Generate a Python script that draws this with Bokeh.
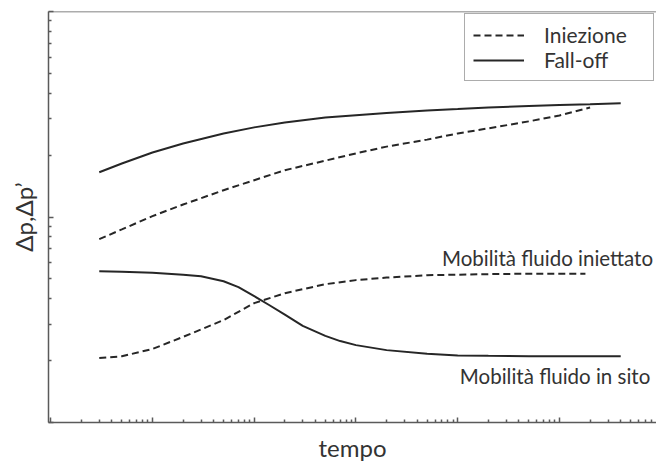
from bokeh.plotting import figure
from bokeh.models import FixedTicker, Span, ColumnDataSource, Legend, LegendItem, CustomJSTickFormatter
from bokeh.core.properties import value
from bokeh.embed import file_html
from bokeh.resources import INLINE

# ---- data ----
t_fall = [0.3, 0.5, 1, 2, 5, 10, 20, 50, 100, 200, 500, 1000, 2000, 5000, 1e4, 2e4, 4e4]
fall_high = [1.65, 1.82, 2.06, 2.28, 2.55, 2.73, 2.88, 3.05, 3.13, 3.21, 3.30, 3.35, 3.41, 3.47, 3.51, 3.54, 3.58]

t_fall_low = [0.3, 0.5, 1, 2, 3, 5, 7, 10, 14, 20, 30, 50, 70, 100, 200, 500, 1000, 2000, 5000, 1e4, 2e4, 4e4]
fall_low = [0.545, 0.542, 0.536, 0.524, 0.515, 0.487, 0.456, 0.412, 0.373, 0.335, 0.295, 0.264, 0.249, 0.238, 0.225,
            0.216, 0.212, 0.211, 0.210, 0.210, 0.210, 0.210]

t_inj_high = [0.3, 0.5, 1, 2, 5, 10, 20, 50, 100, 200, 500, 1000, 2000, 5000, 1e4, 2e4]
inj_high = [0.78, 0.87, 1.01, 1.15, 1.35, 1.51, 1.69, 1.88, 2.04, 2.20, 2.38, 2.55, 2.70, 2.92, 3.12, 3.41]

t_inj_low = [0.3, 0.5, 1, 2, 5, 10, 20, 50, 100, 200, 500, 1000, 2000, 5000, 1e4, 1.8e4]
inj_low = [0.206, 0.210, 0.228, 0.261, 0.315, 0.381, 0.426, 0.471, 0.493, 0.507, 0.521, 0.524, 0.527, 0.530, 0.530, 0.530]

note_texts = ["Mobilità fluido iniettato", "Mobilità fluido in sito"]
note_t = [700, 1050]
note_v = [0.635, 0.169]

series_labels = ["Iniezione", "Fall-off"]
x_label = "tempo"
y_label = "Δp,Δp’"

FONT = "Lato"
TXT = "#333333"
AX = "#5a5a5a"
LINE = "#262626"

p = figure(width=656, height=464, x_axis_type="log", y_axis_type="log",
           x_range=(0.0951, 89900), y_range=(0.1, 10),
           output_backend="svg", toolbar_location=None,
           min_border_top=11, min_border_left=48, min_border_right=0, min_border_bottom=40)
p.outline_line_color = None
p.xgrid.visible = False
p.ygrid.visible = False
p.background_fill_color = "white"
p.border_fill_color = "white"

r_inj1 = p.line(t_inj_high, inj_high, line_color=LINE, line_width=2, line_dash="7 4")
r_inj2 = p.line(t_inj_low, inj_low, line_color=LINE, line_width=2, line_dash="7 4")
r_fall1 = p.line(t_fall, fall_high, line_color=LINE, line_width=2)
r_fall2 = p.line(t_fall_low, fall_low, line_color=LINE, line_width=2)

src = ColumnDataSource(dict(x=note_t, y=note_v, text=note_texts))
p.text(x="x", y="y", text="text", source=src, text_font=value(FONT),
       text_font_size="20.5px", text_color=TXT, text_baseline="middle", text_align="left")

# top frame line
p.add_layout(Span(location=10, dimension="width", line_color=AX, line_width=1.5))

# axes
xt = [10.0 ** k for k in range(-1, 6)]
xm = [m * 10.0 ** k for k in range(-2, 6) for m in range(2, 10)]
yt = [0.1, 1, 10]
ym = [m * 10.0 ** k for k in range(-2, 2) for m in range(2, 10)]
p.xaxis.ticker = FixedTicker(ticks=xt, minor_ticks=xm)
p.yaxis.ticker = FixedTicker(ticks=yt, minor_ticks=ym)
blank = CustomJSTickFormatter(code="return ''")
for ax in (p.xaxis, p.yaxis):
    ax.formatter = blank
    ax.axis_line_color = AX
    ax.axis_line_width = 1.5
    ax.major_tick_line_color = AX
    ax.minor_tick_line_color = AX
    ax.major_tick_line_width = 1.5
    ax.minor_tick_line_width = 1.5
    ax.major_tick_in = 5
    ax.major_tick_out = 0
    ax.minor_tick_in = 3
    ax.minor_tick_out = 0
    ax.major_label_text_font_size = "1px"
    ax.major_label_standoff = 0
    ax.axis_label_text_font = FONT
    ax.axis_label_text_font_size = "24px"
    ax.axis_label_text_font_style = "normal"
    ax.axis_label_text_color = TXT
p.xaxis.axis_label = x_label
p.yaxis.axis_label = y_label
p.xaxis.axis_label_standoff = 10
p.yaxis.axis_label_standoff = 11

legend = Legend(items=[LegendItem(label=series_labels[0], renderers=[r_inj1]),
                       LegendItem(label=series_labels[1], renderers=[r_fall1])],
                location="top_right")
legend.margin = 2
legend.padding = 8
legend.spacing = 0
legend.glyph_width = 51
legend.label_standoff = 20
legend.label_width = 101
legend.label_text_font = FONT
legend.label_text_font_size = "21px"
legend.label_text_color = TXT
legend.border_line_color = AX
legend.border_line_width = 1.2
legend.background_fill_alpha = 1
p.add_layout(legend)

open("out.html", "w").write(file_html(p, INLINE))
